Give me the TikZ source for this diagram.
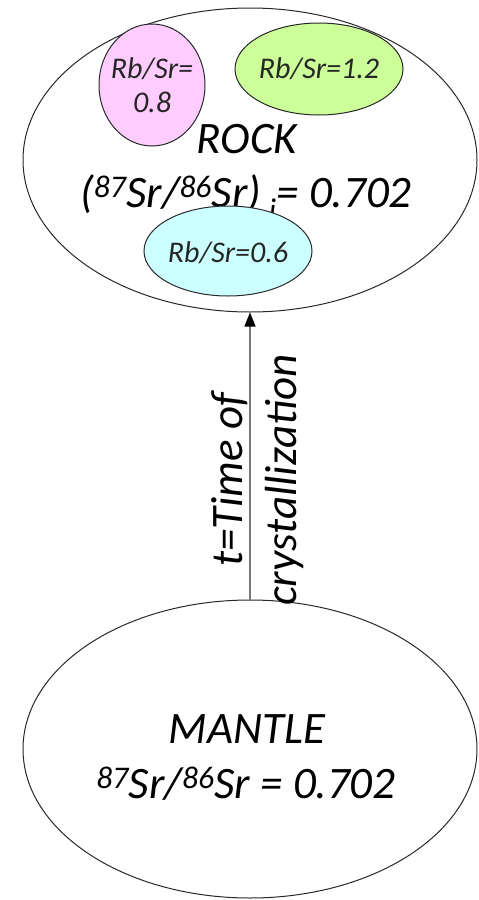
\documentclass[tikz,border=0pt]{standalone}
\usepackage{fontspec}
\setmainfont{Carlito}
\usetikzlibrary{shapes.geometric,arrows.meta}

\definecolor{pinkfill}{RGB}{255,204,255}
\definecolor{greenfill}{RGB}{204,255,153}
\definecolor{cyanfill}{RGB}{204,255,255}
\definecolor{edge}{RGB}{40,40,40}
\definecolor{linkgray}{RGB}{120,120,120}

\tikzset{
  oval/.style={ellipse, draw=edge, line width=1pt, inner sep=0pt, fill=white},
  bigtext/.style={font=\fontsize{45}{52}\selectfont\itshape, inner sep=0pt, anchor=base},
  smalltext/.style={font=\fontsize{30}{34}\selectfont\itshape, inner sep=0pt, anchor=base, text=black!85},
}

\begin{document}
\begin{tikzpicture}[x=1pt, y=-1pt]
\useasboundingbox (0,0) rectangle (479,900);

% rock body
\node[oval, minimum width=454pt, minimum height=304pt] (rock) at (250,160) {};
\node[bigtext] (rocktitle) at (247,153) {ROCK};
\node[bigtext] (rockratio) at (246,207)
  {(\textsuperscript{87}Sr/\textsuperscript{86}Sr)\,\textsubscript{i}= 0.702};

% minerals
\node[oval, fill=pinkfill, minimum width=106pt, minimum height=122pt] (pink) at (152,85) {};
\node[smalltext] (pinka) at (152,78) {Rb/Sr=};
\node[smalltext] (pinkb) at (152,112) {0.8};

\node[oval, fill=greenfill, minimum width=168pt, minimum height=92pt] (green) at (319,69) {};
\node[smalltext] (greent) at (319,78) {Rb/Sr=1.2};

\node[oval, fill=cyanfill, minimum width=168pt, minimum height=90pt] (cyan) at (228,251) {};
\node[smalltext] (cyant) at (228,262) {Rb/Sr=0.6};

% mantle source
\node[oval, minimum width=454pt, minimum height=298pt] (mantle) at (250,749) {};
\node[bigtext] (mantletitle) at (247,743) {MANTLE};
\node[bigtext] (mantleratio) at (246,798)
  {\textsuperscript{87}Sr/\textsuperscript{86}Sr = 0.702};

% crystallization link
\draw[linkgray, line width=1.5pt, -{Triangle[black, length=14pt, width=11pt]}]
  (mantle.north) -- (rock.south);
\node[font=\fontsize{45}{54}\selectfont\itshape, rotate=90, align=center, inner sep=0pt]
  (tlabel) at (258,480) {t=Time of\\crystallization};
\end{tikzpicture}
\end{document}
